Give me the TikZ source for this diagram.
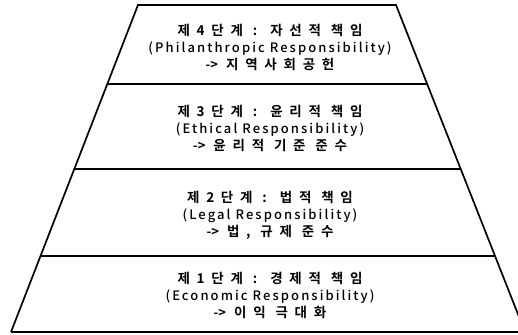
\documentclass[tikz,border=0pt]{standalone}
\usepackage{fontspec}
\newfontfamily\krb{Noto Sans CJK KR Bold}[LetterSpace=50]
\newfontfamily\enr{Noto Sans CJK KR Medium}[LetterSpace=16]
\newfontfamily\arrowfont{Noto Sans CJK KR Bold}
% arrow prefix of the third line, set without tracking
\newcommand{\tierarrow}{{\arrowfont ->}\hspace*{8pt}}
\begin{document}
\begin{tikzpicture}[x=1pt,y=-1pt,
  edge/.style={line width=1.7pt,black},
  tiertext/.style={align=center,inner sep=0pt,font=\fontsize{13}{17}\selectfont}]
\useasboundingbox (0,0) rectangle (518,334);
\clip (0,0) rectangle (518,334);
% outline of the pyramid
\coordinate (tl) at (138,5);
\coordinate (tr) at (396,5);
\coordinate (bl) at (11,332);
\coordinate (br) at (525,332);
\draw[edge] (bl) -- (tl) -- (tr) -- (br);
\draw[edge] (bl) -- (br);
% tier dividers
\foreach \y/\n in {84/a,169/b,256/c}{
  \draw[edge] ({138-0.3884*(\y-5)},\y) -- ({396+0.3945*(\y-5)},\y);
}
% tier labels
\node[tiertext] (t4) at (270,47) {{\krb\fontsize{13.5}{17}\selectfont 제4단계 : 자선적 책임}\\{\enr (Philanthropic Responsibility)}\\{\tierarrow\krb\fontsize{13.5}{17}\selectfont 지역사회공헌}};
\node[tiertext] (t3) at (270,128) {{\krb\fontsize{13.5}{17}\selectfont 제3단계 : 윤리적 책임}\\{\enr (Ethical Responsibility)}\\{\tierarrow\krb\fontsize{13.5}{17}\selectfont 윤리적 기준 준수}};
\node[tiertext] (t2) at (270,215) {{\krb\fontsize{13.5}{17}\selectfont 제2단계 : 법적 책임}\\{\enr (Legal Responsibility)}\\{\tierarrow\krb\fontsize{13.5}{17}\selectfont 법, 규제 준수}};
\node[tiertext] (t1) at (270,295) {{\krb\fontsize{13.5}{17}\selectfont 제1단계 : 경제적 책임}\\{\enr (Economic Responsibility)}\\{\tierarrow\krb\fontsize{13.5}{17}\selectfont 이익 극대화}};
\end{tikzpicture}
\end{document}
